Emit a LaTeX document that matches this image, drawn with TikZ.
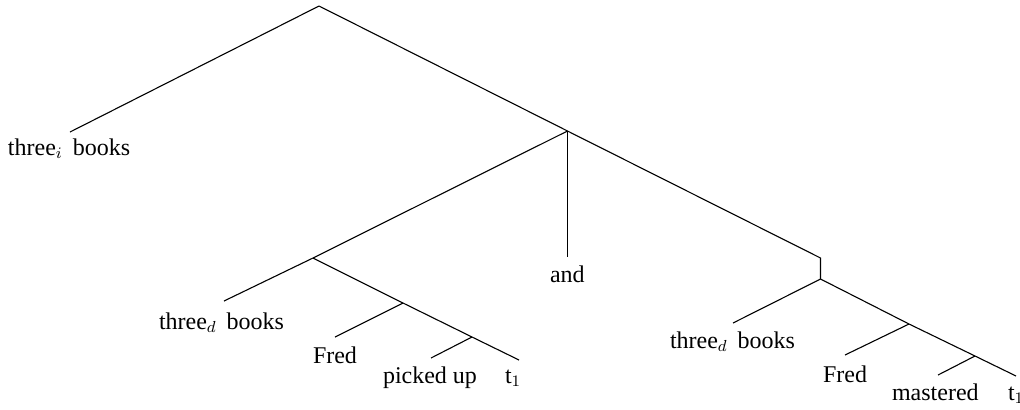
\documentclass[tikz,border=0pt]{standalone}
\usepackage{fontspec}
\setmainfont{Liberation Serif}
\begin{document}
\begin{tikzpicture}[x=0.5pt,y=-0.5pt,
  edge/.style={draw=black,line width=0.55pt},
  leaf/.style={anchor=base west,inner sep=0pt,outer sep=0pt,font=\fontsize{12}{14}\selectfont}]
\useasboundingbox (0,0) rectangle (1020,409);
% junctions
\coordinate (root) at (319,6);
\coordinate (X) at (567.5,131);
\coordinate (L) at (313,258);
\coordinate (Rt) at (820.5,258);
\coordinate (R) at (820.5,279);
\coordinate (LV) at (403,303);
\coordinate (LVP) at (472,337);
\coordinate (RV) at (909,324);
\coordinate (RVP) at (975,356);
% edge ends
\coordinate (eti) at (70,132);
\coordinate (eand) at (567.5,257);
\coordinate (etdL) at (224,301);
\coordinate (efL) at (335,337);
\coordinate (epu) at (431,358);
\coordinate (et1L) at (519,360);
\coordinate (etdR) at (733,323);
\coordinate (efR) at (845,355);
\coordinate (ema) at (938,375);
\coordinate (et1R) at (1016,376);
% labels
\node[leaf] (ti) at (8,155) {three$_i$\, books};
\node[leaf] (and) at (550,282) {and};
\node[leaf] (tdL) at (159,329) {three$_d$\, books};
\node[leaf] (fL) at (313,363) {Fred};
\node[leaf] (pu) at (383,383) {picked up};
\node[leaf] (t1L) at (505,383) {t$_1$};
\node[leaf] (tdR) at (670,348) {three$_d$\, books};
\node[leaf] (fR) at (823,382) {Fred};
\node[leaf] (ma) at (892,400) {mastered};
\node[leaf] (t1R) at (1008,400) {t$_1$};
% edges
\draw[edge] (root) -- (eti);
\draw[edge] (root) -- (X);
\draw[edge] (X) -- (L);
\draw[edge] (X) -- (eand);
\draw[edge] (X) -- (Rt) -- (R);
\draw[edge] (L) -- (etdL);
\draw[edge] (L) -- (LV);
\draw[edge] (LV) -- (efL);
\draw[edge] (LV) -- (LVP);
\draw[edge] (LVP) -- (epu);
\draw[edge] (LVP) -- (et1L);
\draw[edge] (R) -- (etdR);
\draw[edge] (R) -- (RV);
\draw[edge] (RV) -- (efR);
\draw[edge] (RV) -- (RVP);
\draw[edge] (RVP) -- (ema);
\draw[edge] (RVP) -- (et1R);
\end{tikzpicture}
\end{document}
